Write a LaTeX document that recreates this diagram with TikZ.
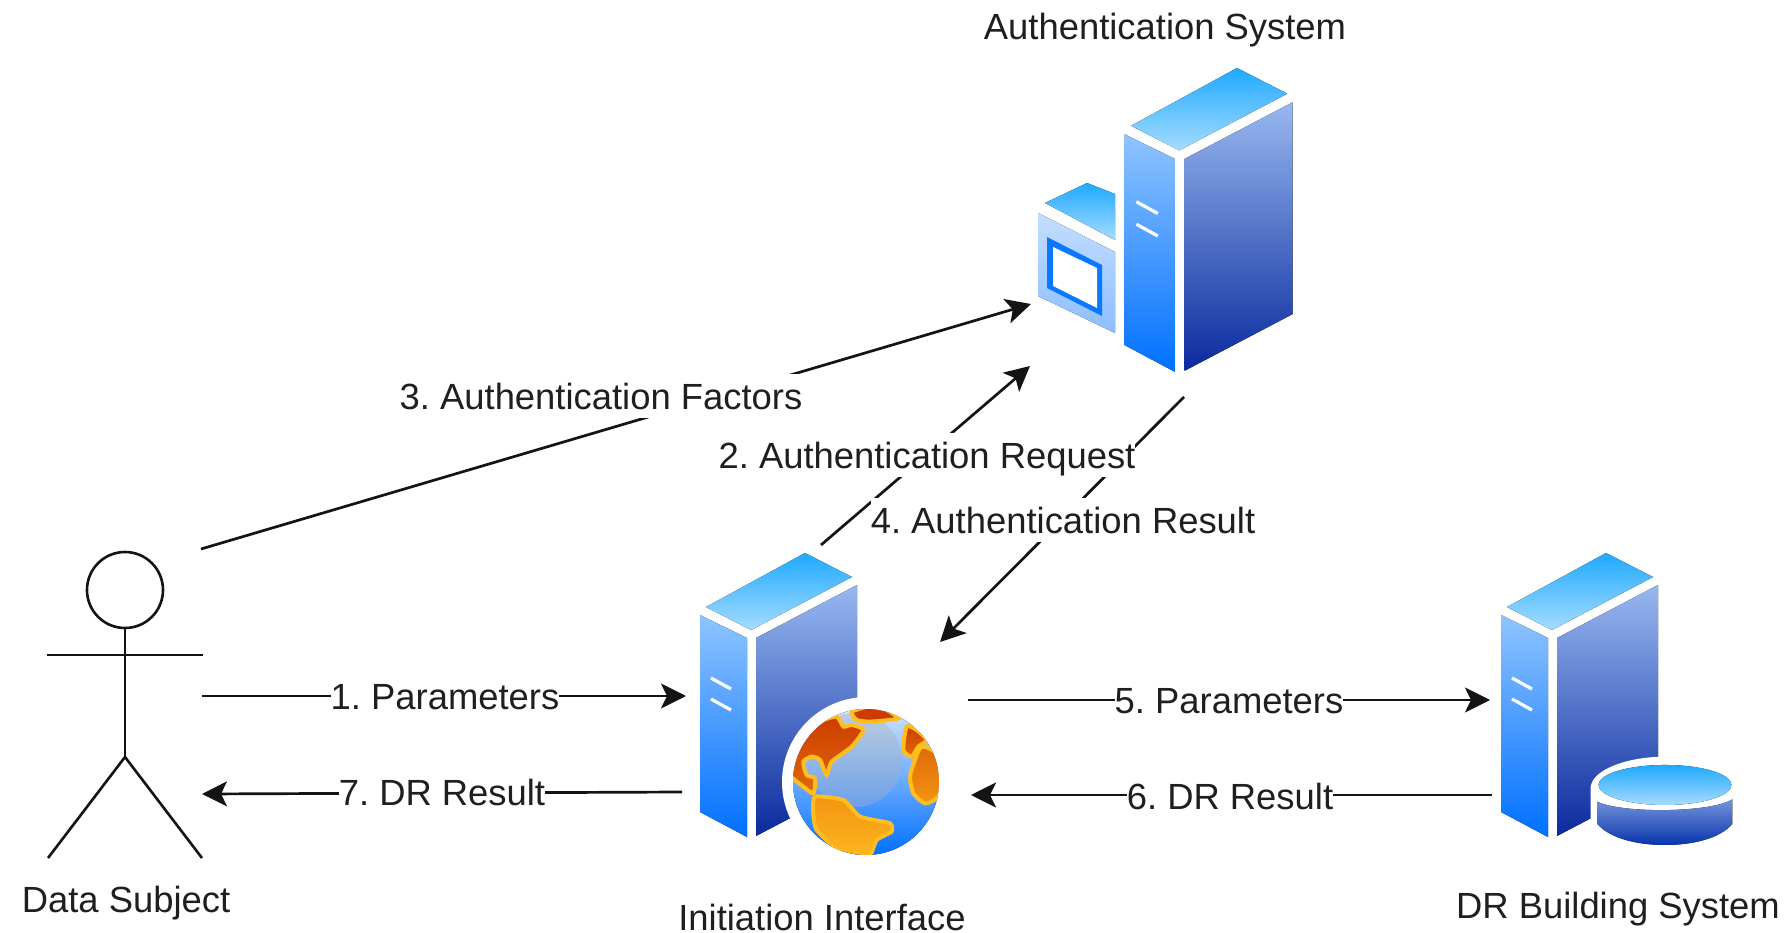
\documentclass[tikz,border=0pt]{standalone}
\usepackage{fontspec}
\setmainfont{Liberation Sans}
\usetikzlibrary{arrows.meta}
\definecolor{topA}{HTML}{1FA9FF}
\definecolor{topB}{HTML}{A6DCFF}
\definecolor{leftA}{HTML}{8FC4FF}
\definecolor{leftB}{HTML}{0070FF}
\definecolor{rightA}{HTML}{98B8F0}
\definecolor{rightB}{HTML}{0A2A9E}
\definecolor{panelA}{HTML}{C4DEFF}
\definecolor{panelB}{HTML}{8CBEFF}
\definecolor{screenblue}{HTML}{0A78FF}
\definecolor{coast}{HTML}{FFBE1E}
\definecolor{contA}{HTML}{CC3C00}
\definecolor{contB}{HTML}{E06A08}
\definecolor{contC}{HTML}{F29412}
\definecolor{contD}{HTML}{FDB81E}
\definecolor{hiA}{HTML}{BDCCDF}
\definecolor{hiB}{HTML}{6CA0EA}
\definecolor{seaA}{HTML}{CFE4FF}
\tikzset{
  lbl/.style={font=\fontsize{36.4}{40}\selectfont\frenchspacing, text=black!88, text height=26pt, text depth=0pt, inner sep=0pt},
  edgelbl/.style={lbl, fill=white, minimum height=44pt},
  conn/.style={line width=2.7pt, draw=black!92},
  arr/.style={conn, -{Stealth[length=25pt,width=25pt,inset=6pt]}},
  stick/.style={line width=2.6pt, draw=black!92},
  slit/.style={white, line width=3.2pt},
  coastline/.style={draw=coast,line width=4pt},
  pics/server/.style={code={
    \fill[top color=topA,bottom color=topB] (0,0) -- (47,24) -- (-54,77) -- (-99,54) -- cycle;
    \fill[top color=leftA,bottom color=leftB] (-105,62) -- (-58,85) -- (-58,284) -- (-105,259) -- cycle;
    \fill[top color=rightA,bottom color=rightB] (-49,85) -- (52,32) -- (52,230) -- (-49,283) -- cycle;
    \draw[slit] (-94,125) -- (-74,136);
    \draw[slit] (-94,146) -- (-74,157);
  }}
}
\begin{document}
\begin{tikzpicture}[x=1pt,y=-1pt]
\useasboundingbox (0,0) rectangle (1789,933);
\fill[white] (0,0) rectangle (1789,933);

% named connector ends
\coordinate (s3) at (201,549);   \coordinate (e3) at (1031,304);
\coordinate (s2) at (821,545);   \coordinate (e2) at (1030,366);
\coordinate (s4) at (1184,397);  \coordinate (e4) at (940,642);
\coordinate (s1) at (202,696);   \coordinate (e1) at (686,696);
\coordinate (s7) at (682,792);   \coordinate (e7) at (202,794);
\coordinate (s5) at (968,700);   \coordinate (e5) at (1490,700);
\coordinate (s6) at (1492,795);  \coordinate (e6) at (971,795);

% connectors
\draw[arr] (s3) -- (e3);
\draw[arr] (s2) -- (e2);
\draw[arr] (s4) -- (e4);
\draw[arr] (s1) -- (e1);
\draw[arr] (s7) -- (e7);
\draw[arr] (s5) -- (e5);
\draw[arr] (s6) -- (e6);

% connector labels
\node[edgelbl] (l3) at (601,396) {3. Authentication Factors};
\node[edgelbl] (l2) at (927,455) {2. Authentication Request};
\node[edgelbl] (l4) at (1063,520) {4. Authentication Result};
\node[edgelbl] (l1) at (445,696) {1. Parameters};
\node[edgelbl] (l7) at (442,792) {7. DR Result};
\node[edgelbl] (l5) at (1229,700) {5. Parameters};
\node[edgelbl] (l6) at (1230,796) {6. DR Result};

% actor
\node[circle, stick, minimum size=76pt, inner sep=0pt] (head) at (125,590) {};
\coordinate (hip) at (125,757);
\coordinate (armL) at (47,655); \coordinate (armR) at (203,655);
\coordinate (footL) at (48,858); \coordinate (footR) at (202,858);
\draw[stick] (head.south) -- (hip);
\draw[stick] (armL) -- (armR);
\draw[stick] (footL) -- (hip) -- (footR);

% authentication system
\fill[top color=topA,bottom color=topB] (1087,183) -- (1115,194) -- (1115,240) -- (1045,203) -- cycle;
\fill[top color=panelA,bottom color=panelB] (1038,213) -- (1115,252) -- (1115,333) -- (1038,296) -- cycle;
\fill[screenblue] (1047,237) -- (1102,265) -- (1102,316) -- (1047,288) -- cycle;
\fill[white] (1053,247) -- (1097,268) -- (1097,308) -- (1053,286) -- cycle;
\pic[scale=1.07] at (1237,68) {server};

% initiation interface
\pic at (805,553) {server};
\fill[white] (867,782) circle[radius=85pt];
\begin{scope}
\clip (866,782) circle[radius=73pt];
\fill[top color=seaA,bottom color=leftB] (793,709) rectangle (939,855);
\shade[top color=hiA,bottom color=hiB] (855,760) circle[radius=47pt];
\begin{scope}[shift={(670,530)},x=0.3333pt,y=-0.3333pt]
\path[coastline,top color=contA,bottom color=contB]
  plot[smooth cycle,tension=0.4] coordinates {(500,560)(520,590)(545,585)(580,600)(545,650)(485,695)(470,735)(450,690)(425,680)(400,695)(410,735)(435,745)(430,790)(400,770)(355,730)(360,680)(410,610)(450,575)};
\path[coastline,top color=contA,bottom color=contA]
  plot[smooth cycle,tension=0.3] coordinates {(545,545)(620,525)(685,565)(600,575)(560,570)};
\path[coastline,top color=contA,bottom color=contB]
  plot[smooth cycle,tension=0.4] coordinates {(710,590)(740,600)(770,630)(745,650)(725,680)(700,660)};
\path[coastline,top color=contB,bottom color=contC]
  plot[smooth cycle,tension=0.4] coordinates {(755,650)(800,670)(820,740)(805,800)(765,820)(730,790)(720,740)(735,690)};
\path[coastline,top color=contC,bottom color=contD]
  plot[smooth cycle,tension=0.3] coordinates {(435,800)(520,810)(570,860)(660,880)(665,905)(620,930)(595,985)(520,975)(440,900)(430,850)};
\end{scope}
\end{scope}

% DR building system
\pic at (1606,553) {server};
\begin{scope}[shift={(1480,530)},x=0.3333pt,y=-0.3333pt]
\fill[white] (332,770) .. controls (340,715) and (450,680) .. (555,680) .. controls (660,680) and (770,715) .. (768,770) -- (768,880) .. controls (750,925) and (650,950) .. (555,950) .. controls (460,950) and (360,925) .. (332,880) -- cycle;
\fill[top color=rightA!75!rightB,bottom color=rightB!85!leftB]
  (352,815) .. controls (420,850) and (690,850) .. (757,808) -- (757,882) .. controls (720,925) and (640,945) .. (555,945) .. controls (470,945) and (390,925) .. (352,882) -- cycle;
\fill[top color=topA,bottom color=topB] (555,765) ellipse[x radius=66.5pt, y radius=20pt];
\end{scope}

% system labels
\node[lbl] (authname) at (1165,27) {Authentication System};
\node[lbl] (dsname) at (126,899) {Data Subject};
\node[lbl] (iiname) at (822,917) {Initiation Interface};
\node[lbl] (drname) at (1618,905) {DR Building System};
\end{tikzpicture}
\end{document}
